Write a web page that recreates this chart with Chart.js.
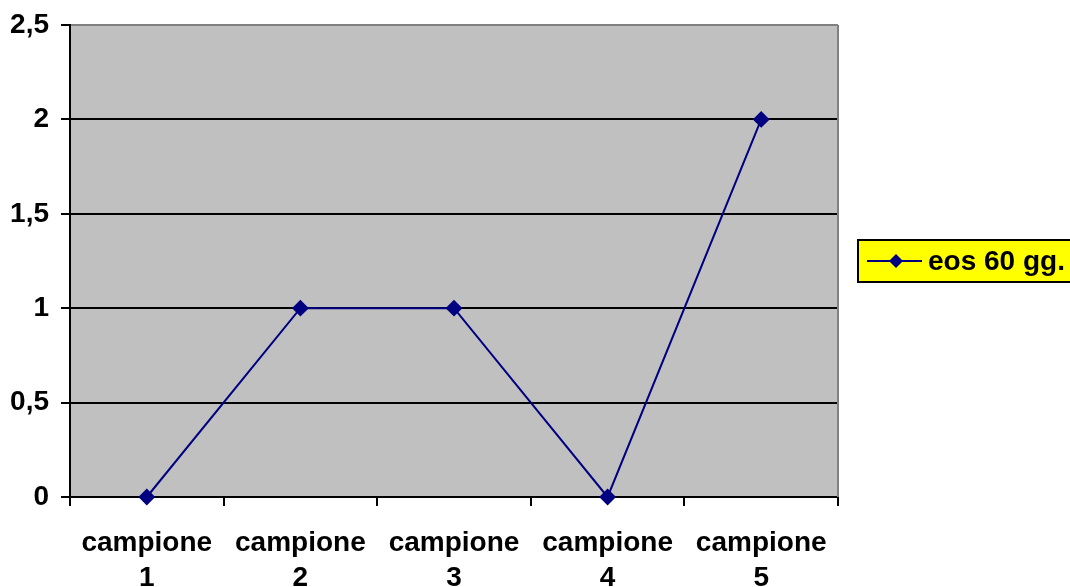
<!DOCTYPE html>
<html>
<head>
<meta charset="utf-8">
<script src="https://cdn.jsdelivr.net/npm/chart.js@4"></script>
<style>
  html, body { margin: 0; padding: 0; background: #fff; overflow: hidden; }
  #wrap { width: 1070px; height: 587px; }
</style>
</head>
<body>
<div id="wrap"><canvas id="c" width="1070" height="587"></canvas></div>
<script>
const categories = [["campione", "1"], ["campione", "2"], ["campione", "3"], ["campione", "4"], ["campione", "5"]];
const seriesName = "eos 60 gg.";
const eosValues = [0, 1, 1, 0, 2];
const yTicks = [0, 0.5, 1, 1.5, 2, 2.5];

const FONT = "'Liberation Sans', Arial, sans-serif";
const NAVY = "#000080";

// gray plot background + right border
const plotBg = {
  id: "plotBg",
  beforeDraw(chart) {
    const { ctx, chartArea: a } = chart;
    ctx.save();
    ctx.fillStyle = "#c0c0c0";
    ctx.fillRect(a.left, a.top, a.right - a.left, a.bottom - a.top);
    ctx.restore();
  },
  afterDatasetsDraw(chart) {
    const { ctx, chartArea: a } = chart;
    ctx.save();
    ctx.strokeStyle = "#808080";
    ctx.lineWidth = 2;
    ctx.beginPath();
    ctx.moveTo(a.right, a.top);
    ctx.lineTo(a.right, a.bottom);
    ctx.stroke();
    ctx.restore();
  }
};

// legend box on the right, runs past the canvas edge like the original
const boxLegend = {
  id: "boxLegend",
  afterDraw(chart) {
    const { ctx, chartArea: a } = chart;
    const x = a.right + 20, y = 240, h = 42;
    ctx.save();
    ctx.fillStyle = "#ffff00";
    ctx.fillRect(x, y, 260, h);
    ctx.strokeStyle = "#000";
    ctx.lineWidth = 2;
    ctx.strokeRect(x, y, 260, h);
    const cy = y + h / 2;
    ctx.strokeStyle = NAVY;
    ctx.lineWidth = 2;
    ctx.beginPath();
    ctx.moveTo(x + 9, cy);
    ctx.lineTo(x + 64, cy);
    ctx.stroke();
    ctx.fillStyle = NAVY;
    ctx.beginPath();
    ctx.moveTo(x + 38, cy - 7);
    ctx.lineTo(x + 45, cy);
    ctx.lineTo(x + 38, cy + 7);
    ctx.lineTo(x + 31, cy);
    ctx.closePath();
    ctx.fill();
    ctx.fillStyle = "#000";
    ctx.font = "bold 28px " + FONT;
    ctx.textBaseline = "middle";
    ctx.fillText(seriesName, x + 70, cy + 1);
    ctx.restore();
  }
};

new Chart(document.getElementById("c"), {
  type: "line",
  data: {
    labels: categories,
    datasets: [{
      label: seriesName,
      data: eosValues,
      borderColor: NAVY,
      backgroundColor: NAVY,
      borderWidth: 2,
      pointStyle: "rectRot",
      pointRadius: 7,
      pointHoverRadius: 7,
      tension: 0,
      clip: false
    }]
  },
  options: {
    responsive: false,
    animation: false,
    layout: { padding: { top: 25, right: 232, left: 0, bottom: 0 } },
    plugins: { legend: { display: false }, tooltip: { enabled: false } },
    scales: {
      x: {
        offset: true,
        grid: { drawOnChartArea: false, drawTicks: true, tickLength: 9, color: "#000", lineWidth: 2, offset: true },
        border: { color: "#000", width: 2 },
        ticks: {
          color: "#000",
          font: { family: FONT, size: 28, weight: "bold", lineHeight: 1.25 },
          padding: 20,
          maxRotation: 0,
          autoSkip: false
        },
        afterFit(s) { s.height = 90; s.paddingLeft = 0; s.paddingRight = 0; }
      },
      y: {
        min: 0,
        max: 2.5,
        afterBuildTicks(s) { s.ticks = yTicks.map(v => ({ value: v })); },
        grid: {
          color: ctx => (ctx.tick && ctx.tick.value === 2.5 ? "#808080" : "#000"),
          lineWidth: 2,
          tickLength: 9,
          tickColor: "#000"
        },
        border: { color: "#000", width: 2 },
        ticks: {
          color: "#000",
          font: { family: FONT, size: 28, weight: "bold" },
          padding: 12,
          callback: v => String(v).replace(".", ",")
        },
        afterFit(s) { s.width = 70; s.paddingTop = 0; s.paddingBottom = 0; }
      }
    }
  },
  plugins: [plotBg, boxLegend]
});
</script>
</body>
</html>
